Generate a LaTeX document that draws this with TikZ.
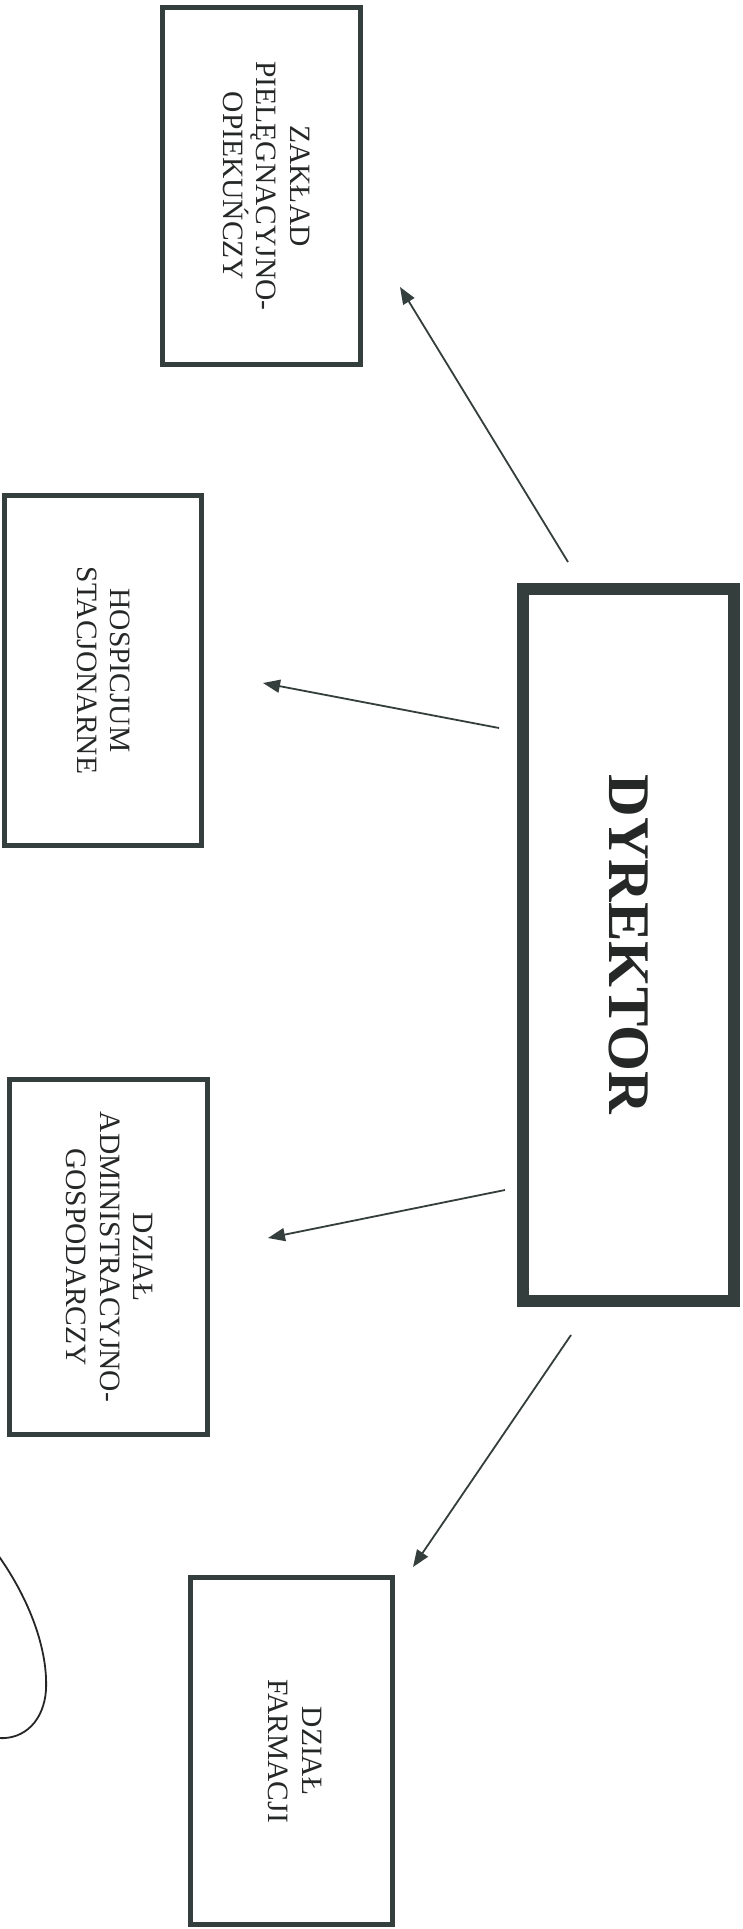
\documentclass[tikz,border=0pt]{standalone}
\usepackage{fontspec}
\setmainfont{Liberation Serif}
\usetikzlibrary{arrows.meta}
\definecolor{ink}{RGB}{52,62,60}
\definecolor{txt}{RGB}{38,40,40}
\begin{document}
\begin{tikzpicture}[x=1pt,y=-1pt,
  unit/.style={draw=ink, line width=5pt, rotate=-90, inner sep=0pt},
  unittext/.style={rotate=-90, inner sep=0pt, align=center, text=txt, font=\fontsize{29.5}{33.5}\selectfont},
  boss/.style={draw=ink, line width=12pt, rotate=-90, inner sep=0pt, text=txt, font=\fontsize{59}{60}\selectfont\bfseries},
  link/.style={draw=ink, line width=1.8pt, -{Triangle[length=17pt,width=13pt]}},
]
\fill[white] (0,0) rectangle (742,1929);
\useasboundingbox (0,0) rectangle (742,1929);

\node[boss, minimum width=712pt, minimum height=211pt] (dyr) at (628.5,944.5) {DYREKTOR};

\node[unit, minimum width=357pt, minimum height=198pt] (zpo) at (261.5,186) {};
\node[unittext] (zpo-t) at ([xshift=5pt]zpo.center) {ZAKŁAD\\PIELĘGNACYJNO-\\OPIEKUŃCZY};
\node[unit, minimum width=350pt, minimum height=197pt] (hos) at (103,670.5) {};
\node[unittext] (hos-t) at ([xshift=0.5pt]hos.center) {HOSPICJUM\\STACJONARNE};
\node[unit, minimum width=355pt, minimum height=198pt] (adm) at (108.5,1257) {};
\node[unittext] (adm-t) at ([xshift=1.5pt]adm.center) {DZIAŁ\\ADMINISTRACYJNO-\\GOSPODARCZY};
\node[unit, minimum width=347pt, minimum height=202pt] (far) at (291.5,1751) {};
\node[unittext] (far-t) at ([xshift=3.5pt]far.center) {DZIAŁ\\FARMACJI};

\coordinate (s1) at (568,562);  \coordinate (e1) at (400,287);
\coordinate (s2) at (499,728);  \coordinate (e2) at (263,683);
\coordinate (s3) at (505,1190); \coordinate (e3) at (268,1238);
\coordinate (s4) at (571,1335); \coordinate (e4) at (413,1567);

\draw[link] (s1) -- (e1);
\draw[link] (s2) -- (e2);
\draw[link] (s3) -- (e3);
\draw[link] (s4) -- (e4);

\draw[line width=1.8pt, black!85] (-2,1555) .. controls (30,1600) and (48,1650) .. (46,1690) .. controls (44,1720) and (25,1740) .. (-2,1738);
\end{tikzpicture}
\end{document}
